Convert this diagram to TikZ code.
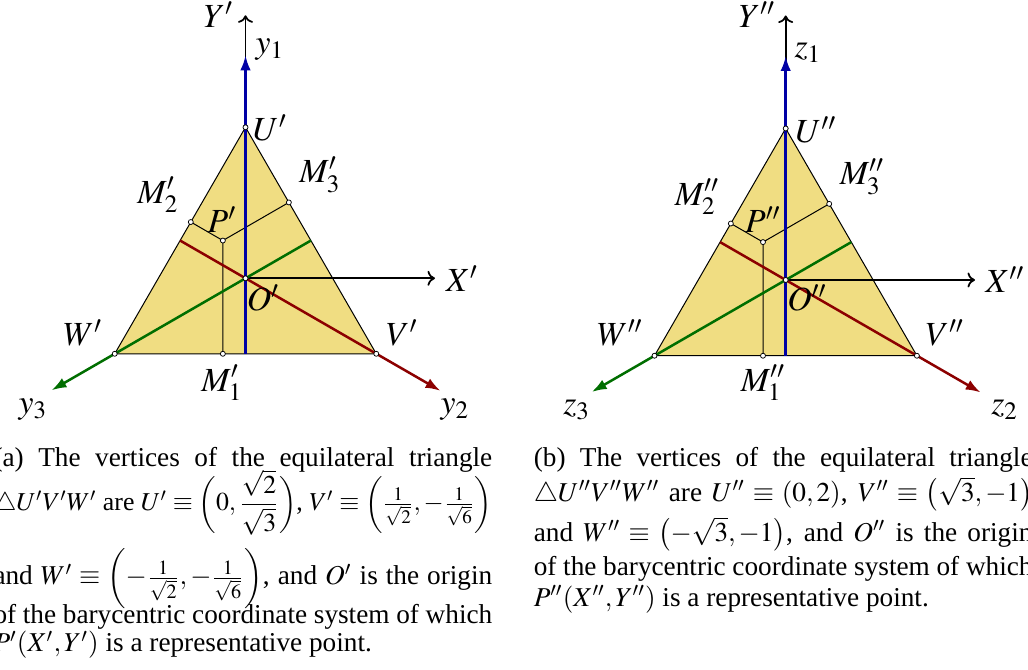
\documentclass[tikz,border=0pt]{standalone}
\usepackage{amsmath}
\usepackage{graphicx}
\usepackage{mathptmx}
\usepackage[no-math]{fontspec}
\setmainfont{Liberation Serif}
\usetikzlibrary{arrows.meta,calc}
\definecolor{trifill}{RGB}{240,221,130}
\definecolor{axblue}{RGB}{0,0,165}
\definecolor{axred}{RGB}{140,0,0}
\definecolor{axgreen}{RGB}{0,110,0}
\newcommand{\capline}[1]{\makebox[199.5pt][s]{#1}}
\newcommand{\capfit}[1]{\resizebox{199.5pt}{!}{#1}}
\newcommand{\bgl}{\mathopen{\scalebox{0.92}{$\biggl($}}}
\newcommand{\bgr}{\mathclose{\scalebox{0.92}{$\biggr)$}}}
\tikzset{
  lbl/.style={font=\fontsize{13.5}{16}\selectfont, inner sep=0pt},
  dot/.style={circle, draw=black, fill=white, line width=0.3pt, minimum size=2pt, inner sep=0pt},
  tri/.style={fill=trifill, draw=black, line width=0.4pt},
  thinl/.style={draw=black, line width=0.4pt},
  blackax/.style={draw=black, line width=0.7pt, -{To[length=3pt,width=6pt]}},
  colax/.style={line width=1pt, -{Latex[length=6pt,width=4.2pt]}},
  capt/.style={anchor=base west, inner sep=0pt, font=\fontsize{10.9}{13}\selectfont},
}
\begin{document}
\begin{tikzpicture}[x=0.4pt,y=-0.4pt]
\useasboundingbox (0,0) rectangle (1028,670);
% ---------------- diagram (a) ----------------
\begin{scope}[shift={(245.5,278.3)}]
\coordinate (aO) at (0,0);
\coordinate (aU) at (0,-151);
\coordinate (aV) at (130.77,75.5);
\coordinate (aW) at (-130.77,75.5);
\coordinate (aP) at (-22.65,-37.75);
\coordinate (aM1) at ($(aV)!(aP)!(aW)$);
\coordinate (aM2) at ($(aU)!(aP)!(aW)$);
\coordinate (aM3) at ($(aU)!(aP)!(aV)$);
\coordinate (aMUV) at ($(aU)!0.5!(aV)$);
\coordinate (aMUW) at ($(aU)!0.5!(aW)$);
\coordinate (aMVW) at ($(aV)!0.5!(aW)$);
\coordinate (aT1) at (0,-223);
\coordinate (aT2) at (195,112.5);
\coordinate (aT3) at (-194,112);
\coordinate (aXt) at (189.5,0);
\coordinate (aYt) at (0,-263);
\draw[tri] (aU) -- (aV) -- (aW) -- cycle;
\draw[thinl] (aM1) -- (aP) -- (aM2);
\draw[thinl] (aP) -- (aM3);
\draw[blackax] (aO) -- (aXt);
\draw[blackax] (aO) -- (aYt);
\draw[colax, axblue] (aMVW) -- (aT1);
\draw[colax, axred] (aMUW) -- (aT2);
\draw[colax, axgreen] (aMUV) -- (aT3);
\node[dot] (aUd) at (aU) {};
\node[dot] (aVd) at (aV) {};
\node[dot] (aWd) at (aW) {};
\node[dot] (aOd) at (aO) {};
\node[dot] (aPd) at (aP) {};
\node[dot] (aM1d) at (aM1) {};
\node[dot] (aM2d) at (aM2) {};
\node[dot] (aM3d) at (aM3) {};
\node[lbl] (aLY) at (-27,-263.3) {$Y'$};
\node[lbl] (aLy1) at (24.5,-228.3) {$y_1$};
\node[lbl] (aLU) at (24.5,-150.3) {$U'$};
\node[lbl] (aLM3) at (74.5,-103.3) {$M'_3$};
\node[lbl] (aLM2) at (-87.5,-83.3) {$M'_2$};
\node[lbl] (aLP) at (-23.5,-58.3) {$P'$};
\node[lbl] (aLX) at (216.5,0.7) {$X'$};
\node[lbl] (aLO) at (17.5,19.7) {$O'$};
\node[lbl] (aLW) at (-162.5,54.7) {$W'$};
\node[lbl] (aLV) at (156.5,54.7) {$V'$};
\node[lbl] (aLM1) at (-23.5,104.7) {$M'_1$};
\node[lbl] (aLy3) at (-212.5,131.7) {$y_3$};
\node[lbl] (aLy2) at (209.5,131.7) {$y_2$};
\end{scope}
% ---------------- diagram (b) ----------------
\begin{scope}[shift={(785.7,280)}]
\coordinate (bO) at (0,0);
\coordinate (bU) at (0,-151.5);
\coordinate (bV) at (131.2,75.75);
\coordinate (bW) at (-131.2,75.75);
\coordinate (bP) at (-22.7,-37.9);
\coordinate (bM1) at ($(bV)!(bP)!(bW)$);
\coordinate (bM2) at ($(bU)!(bP)!(bW)$);
\coordinate (bM3) at ($(bU)!(bP)!(bV)$);
\coordinate (bMUV) at ($(bU)!0.5!(bV)$);
\coordinate (bMUW) at ($(bU)!0.5!(bW)$);
\coordinate (bMVW) at ($(bV)!0.5!(bW)$);
\coordinate (bT1) at (0,-224);
\coordinate (bT2) at (195,112.5);
\coordinate (bT3) at (-194,112);
\coordinate (bXt) at (189.3,0);
\coordinate (bYt) at (0,-264.5);
\draw[tri] (bU) -- (bV) -- (bW) -- cycle;
\draw[thinl] (bM1) -- (bP) -- (bM2);
\draw[thinl] (bP) -- (bM3);
\draw[blackax] (bO) -- (bXt);
\draw[blackax] (bO) -- (bYt);
\draw[colax, axblue] (bMVW) -- (bT1);
\draw[colax, axred] (bMUW) -- (bT2);
\draw[colax, axgreen] (bMUV) -- (bT3);
\node[dot] (bUd) at (bU) {};
\node[dot] (bVd) at (bV) {};
\node[dot] (bWd) at (bW) {};
\node[dot] (bOd) at (bO) {};
\node[dot] (bPd) at (bP) {};
\node[dot] (bM1d) at (bM1) {};
\node[dot] (bM2d) at (bM2) {};
\node[dot] (bM3d) at (bM3) {};
\node[lbl] (bLY) at (-28.7,-265) {$Y''$};
\node[lbl] (bLz1) at (22.3,-227) {$z_1$};
\node[lbl] (bLU) at (30.3,-150) {$U''$};
\node[lbl] (bLM3) at (76.3,-103) {$M''_3$};
\node[lbl] (bLM2) at (-88.7,-83) {$M''_2$};
\node[lbl] (bLP) at (-22.7,-60) {$P''$};
\node[lbl] (bLX) at (219.3,0) {$X''$};
\node[lbl] (bLO) at (21.3,18) {$O''$};
\node[lbl] (bLW) at (-165.7,53) {$W''$};
\node[lbl] (bLV) at (159.3,53) {$V''$};
\node[lbl] (bLM1) at (-22.7,103) {$M''_1$};
\node[lbl] (bLz3) at (-209,130) {$z_3$};
\node[lbl] (bLz2) at (219,130) {$z_2$};
\end{scope}
% ---------------- captions ----------------
\node[capt] (ca1) at (-7,466.7) {\capline{(a) The vertices of the equilateral triangle}};
\node[capt] (ca2) at (-7,511) {\capfit{$\triangle U'V'W'$ are $U'\equiv\bgl 0,\dfrac{\sqrt{2}}{\sqrt{3}}\bgr$, $V'\equiv\bgl\frac{1}{\sqrt{2}},-\frac{1}{\sqrt{6}}\bgr$}};
\node[capt] (ca3) at (-7,585) {\capline{and $W'\equiv\bgl-\frac{1}{\sqrt{2}},-\frac{1}{\sqrt{6}}\bgr$, and $O'$ is the origin}};
\node[capt] (ca4) at (-7,623.3) {\capline{of the barycentric coordinate system of which}};
\node[capt] (ca5) at (-7,652) {$P'(X',Y')$ is a representative point.};
\node[capt] (cb1) at (533.3,466.7) {\capline{(b) The vertices of the equilateral triangle}};
\node[capt] (cb2) at (533.3,501.7) {\capline{$\triangle U''V''W''$ are $U''\equiv(0,2)$, $V''\equiv\bigl(\sqrt{3},-1\bigr)$}};
\node[capt] (cb3) at (533.3,541.7) {\capline{and $W''\equiv\bigl(-\sqrt{3},-1\bigr)$, and $O''$ is the origin}};
\node[capt] (cb4) at (533.3,575.7) {\capline{of the barycentric coordinate system of which}};
\node[capt] (cb5) at (533.3,606.7) {$P''(X'',Y'')$ is a representative point.};
\end{tikzpicture}
\end{document}
